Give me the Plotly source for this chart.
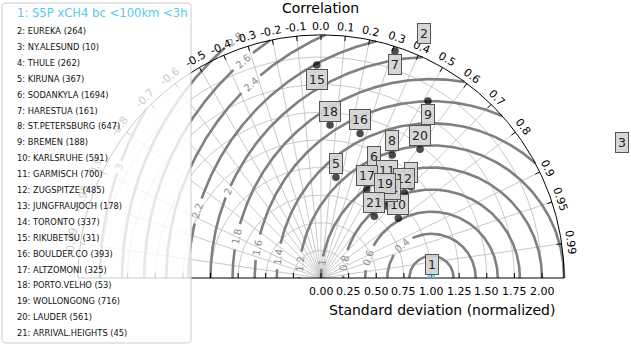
import numpy as np
import plotly.graph_objects as go

# --- data ----------------------------------------------------------------
STATIONS = ["S5P xCH4 bc <100km <3h", "EUREKA", "NY.ALESUND", "THULE", "KIRUNA",
            "SODANKYLA", "HARESTUA", "ST.PETERSBURG", "BREMEN", "KARLSRUHE",
            "GARMISCH", "ZUGSPITZE", "JUNGFRAUJOCH", "TORONTO", "RIKUBETSU",
            "BOULDER.CO", "ALTZOMONI", "PORTO.VELHO", "WOLLONGONG", "LAUDER",
            "ARRIVAL.HEIGHTS"]
N_OBS = [None, 264, 10, 262, 367, 1694, 161, 647, 188, 591, 700, 485, 178,
         337, 31, 393, 325, 53, 716, 561, 45]
STD_NORM = [1.0, 2.285, 2.94, 1.160, 0.921, 1.081, 2.161, 1.287, 1.872, 0.884,
            1.034, 1.079, 0.884, 0.916, 1.928, 1.355, 0.903, 1.387, 0.934,
            1.470, 0.738]
CORR = [1.0, 0.408, 0.927, 0.702, 0.147, 0.444, 0.310, 0.501, 0.517, 0.791,
        0.575, 0.699, 0.675, 0.682, -0.020, 0.261, 0.458, 0.059, 0.620,
        0.610, 0.654]

CORR_TICKS = [-0.99, -0.95, -0.9, -0.8, -0.7, -0.6, -0.5, -0.4, -0.3, -0.2,
              -0.1, 0.0, 0.1, 0.2, 0.3, 0.4, 0.5, 0.6, 0.7, 0.8, 0.9, 0.95, 0.99]
STD_TICKS = [0.0, 0.25, 0.5, 0.75, 1.0, 1.25, 1.5, 1.75, 2.0]
RMS_LEVELS = [0.2, 0.4, 0.6, 0.8, 1.0, 1.2, 1.4, 1.6, 1.8, 2.0, 2.2, 2.4,
              2.6, 2.8, 3.0, 3.2]
# where the contour labels sit (angle around the reference point, degrees)
RMS_LABEL_ANGLE = {0.4: 132, 0.6: 162, 0.8: 170, 1.0: 172, 1.2: 174, 1.4: 172,
                   1.6: 170, 1.8: 168, 2.0: 157, 2.2: 164, 2.4: 133, 2.6: 131,
                   2.8: 129.5, 3.0: 160.4}
LABEL_BELOW = {7, 9, 15}

# --- geometry -------------------------------------------------------------
W, H = 631, 345
OX, OY = 321, 278        # pixel of the origin
PX = 110.5               # pixels per unit of normalized std
STD_MAX = 2.2
LEGEND_BOX = (2, 3, 191, 343)
REF_COLOR = "#5ac8f0"

XR = [-OX / PX, (W - OX) / PX]
YR = [-(H - OY) / PX, OY / PX]


def paper(px, py):
    return px / W, 1 - py / H


def under_legend(x, y):
    px, py = OX + x * PX, OY - y * PX
    return LEGEND_BOX[0] <= px <= LEGEND_BOX[2] and LEGEND_BOX[1] <= py <= LEGEND_BOX[3]


def faded(hexcol, alpha=0.8):
    rgb = [int(hexcol[i:i + 2], 16) for i in (1, 3, 5)]
    rgb = [round(c * (1 - alpha) + 255 * alpha) for c in rgb]
    return "rgb(%d,%d,%d)" % tuple(rgb)


fig = go.Figure()
annotations = []

# thin grid: std circles and correlation rays
th = np.linspace(0, np.pi, 361)
gx, gy = [], []
for s in STD_TICKS[1:]:
    gx += list(s * np.cos(th)) + [None]
    gy += list(s * np.sin(th)) + [None]
for c in CORR_TICKS:
    t = np.arccos(c)
    gx += [0, STD_MAX * np.cos(t), None]
    gy += [0, STD_MAX * np.sin(t), None]
fig.add_trace(go.Scatter(x=gx, y=gy, mode="lines", hoverinfo="skip",
                         line=dict(color="#c2c2c2", width=0.9)))

# RMS difference contours around the reference (1, 0)
cx, cy = [], []
for r in RMS_LEVELS:
    if 1 + r > STD_MAX:
        xb = (STD_MAX ** 2 - r ** 2 + 1) / 2
        phi0 = np.arccos(np.clip((xb - 1) / r, -1, 1))
    else:
        phi0 = 0.0
    segs = [(phi0, np.pi)]
    lab = RMS_LABEL_ANGLE.get(r)
    if lab is not None:
        txt = "%.2g" % r
        phl = np.radians(lab)
        half = (len(txt) * 3.3 + 3) / (r * PX)
        segs = [(phi0, phl - half), (phl + half, np.pi)]
        lx, ly = 1 + r * np.cos(phl), r * np.sin(phl)
        annotations.append(dict(
            x=lx, y=ly, xref="x", yref="y", text=txt, showarrow=False,
            textangle=-(lab - 90),
            font=dict(size=10, color=faded("#7a7a7a", 0.7) if under_legend(lx, ly) else "#8c8c8c")))
    for a, b in segs:
        if b <= a:
            continue
        ph = np.linspace(a, b, 300)
        cx += list(1 + r * np.cos(ph)) + [None]
        cy += list(r * np.sin(ph)) + [None]
fig.add_trace(go.Scatter(x=cx, y=cy, mode="lines", hoverinfo="skip",
                         line=dict(color="#808080", width=2.6)))

# frame: outer arc, baseline and ticks
fx = list(STD_MAX * np.cos(th)) + [None, -STD_MAX, STD_MAX, None]
fy = list(STD_MAX * np.sin(th)) + [None, 0, 0, None]
for c in CORR_TICKS:
    t = np.arccos(c)
    r0 = STD_MAX - 5 / PX
    fx += [r0 * np.cos(t), STD_MAX * np.cos(t), None]
    fy += [r0 * np.sin(t), STD_MAX * np.sin(t), None]
    lx, ly = 2.28 * np.cos(t), 2.28 * np.sin(t)
    txt = "%.1f" % c if round(c * 10, 6) == round(c * 10) else "%.2f" % c
    annotations.append(dict(
        x=lx, y=ly, xref="x", yref="y", text=txt, showarrow=False,
        textangle=90 - np.degrees(t),
        font=dict(size=11, color=faded("#000000") if under_legend(lx, ly) else "#000000")))
for s in STD_TICKS:
    for v in ([s, -s] if s > 0 else [s]):
        fx += [v, v, None]
        fy += [0, 5 / PX, None]
    annotations.append(dict(x=s, y=0, xref="x", yref="y", text="%.2f" % s,
                            showarrow=False, yshift=-13, font=dict(size=11, color="#000")))
fig.add_trace(go.Scatter(x=fx, y=fy, mode="lines", hoverinfo="skip",
                         line=dict(color="#000000", width=1)))

# station markers (clipped at the baseline / outer arc)
mx, my, mc, ms = [], [], [], []
for i, (s, c) in enumerate(zip(STD_NORM, CORR)):
    t = np.arccos(c)
    x, y = s * np.cos(t), s * np.sin(t)
    if s <= STD_MAX:
        mx.append(x)
        my.append(y)
        mc.append(REF_COLOR if i == 0 else "#000000")
        ms.append(9 if i == 0 else 7.5)
    annotations.append(dict(
        x=x, y=y, xref="x", yref="y", text=str(i + 1), showarrow=False,
        yshift=-14 if (i + 1) in LABEL_BELOW else 14,
        font=dict(size=12.5, color="#262626"),
        bgcolor="rgba(212,212,212,0.92)", bordercolor="#555555",
        borderwidth=1, borderpad=2))
fig.add_trace(go.Scatter(x=mx, y=my, mode="markers", xaxis="x2", yaxis="y2",
                         hoverinfo="skip", cliponaxis=True,
                         marker=dict(color=mc, size=ms, line=dict(width=0))))

# titles
for txt, (px, py) in [("Correlation", (320.5, 8)),
                      ("Standard deviation (normalized)", (442, 310))]:
    x, y = paper(px, py)
    annotations.append(dict(x=x, y=y, xref="paper", yref="paper", text=txt,
                            xanchor="center", yanchor="middle",
                            showarrow=False, font=dict(size=14, color="#000")))

# legend drawn by hand: a translucent rounded box with the station list
x0, y0, x1, y1 = LEGEND_BOX
rd = 4
path = (f"M {x0 + rd},{y0} L {x1 - rd},{y0} Q {x1},{y0} {x1},{y0 + rd} "
        f"L {x1},{y1 - rd} Q {x1},{y1} {x1 - rd},{y1} L {x0 + rd},{y1} "
        f"Q {x0},{y1} {x0},{y1 - rd} L {x0},{y0 + rd} Q {x0},{y0} {x0 + rd},{y0} Z")


def conv(m):
    px, py = m.split(",")
    a, b = paper(float(px), float(py))
    return f"{a:.5f},{b:.5f}"


path = " ".join(conv(tok) if "," in tok else tok for tok in path.split(" "))
shapes = [dict(type="path", path=path, xref="paper", yref="paper", layer="above",
               fillcolor="rgba(255,255,255,0.8)", line=dict(color="#cccccc", width=1))]

for i, name in enumerate(STATIONS):
    if i == 0:
        txt, py, size, col = f"1: {name}", 13, 11.6, REF_COLOR
    else:
        txt, py, size, col = f"{i + 1}: {name} ({N_OBS[i]})", 31 + 15.9 * (i - 1), 8.3, "#111111"
    x, y = paper(15, py)
    annotations.append(dict(x=x, y=y, xref="paper", yref="paper", text=txt,
                            showarrow=False, xanchor="left", yanchor="middle",
                            font=dict(size=size, color=col)))

fig.update_layout(
    width=W, height=H,
    margin=dict(l=0, r=0, t=0, b=0),
    paper_bgcolor="white", plot_bgcolor="rgba(0,0,0,0)",
    font=dict(family="DejaVu Sans"),
    showlegend=False,
    xaxis=dict(range=XR, visible=False, fixedrange=True, domain=[0, 1]),
    yaxis=dict(range=YR, visible=False, fixedrange=True, domain=[0, 1]),
    xaxis2=dict(range=XR, visible=False, fixedrange=True, domain=[0, 1], anchor="y2"),
    yaxis2=dict(range=[0, OY / PX], visible=False, fixedrange=True,
                domain=[(H - OY) / H, 1], anchor="x2"),
    annotations=annotations,
    shapes=shapes,
)

# page body margin would otherwise shift the figure by 8 px
fig.write_html("out.html", config={"displayModeBar": False},
               post_script="document.body.style.margin='0px';")
